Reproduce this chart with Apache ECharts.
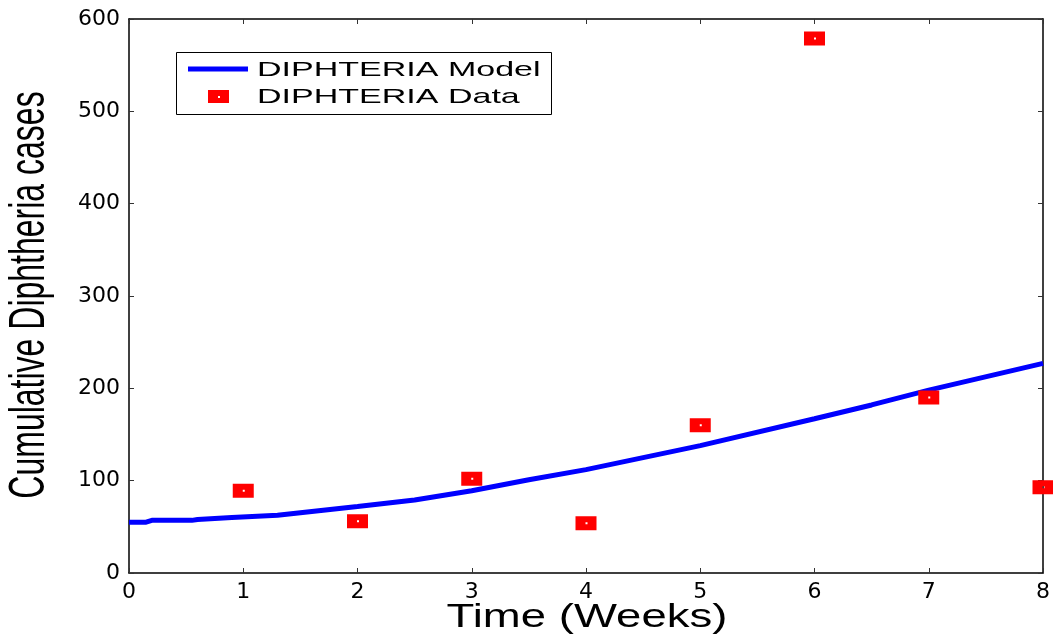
<!DOCTYPE html>
<html>
<head>
<meta charset="utf-8">
<script src="https://cdn.jsdelivr.net/npm/echarts@6/dist/echarts.min.js"></script>
<style>html,body{margin:0;padding:0;background:#fff}#c{width:1053px;height:640px}</style>
</head>
<body>
<div id="c"></div>
<script>
// Model curve (time in weeks, cumulative cases)
const modelTime  = [0, 0.15, 0.2, 0.55, 0.6, 0.9, 1.3, 2, 2.5, 3, 3.5, 4, 5, 6, 6.5, 7, 8];
const modelCases = [55, 55, 57, 57, 58, 60, 62.5, 72, 79, 89, 101, 112, 138, 167, 182, 198, 227];
// Observed data
const dataWeeks = [1, 2, 3, 4, 5, 6, 7, 8];
const dataCases = [89, 56, 102, 54, 160, 579, 190, 93];
// Axis ticks
const xTicks = [0, 1, 2, 3, 4, 5, 6, 7, 8];
const yTicks = [0, 100, 200, 300, 400, 500, 600];

const modelName = 'DIPHTERIA Model';
const dataName = 'DIPHTERIA Data';
const xTitle = 'Time (Weeks)';
const yTitle = 'Cumulative Diphtheria cases';

const squarePath = 'path://M0,0L21,0L21,14L0,14Z M10,6L10,8L12,8L12,6Z';

const chart = echarts.init(document.getElementById('c'), null, {renderer: 'canvas'});
const tickFont = {color: '#000', fontFamily: 'DejaVu Sans', fontSize: 22};
const axisLine = {show: true, onZero: false, lineStyle: {color: '#000', width: 1.5}};
const tick = {show: true, inside: true, length: 5, lineStyle: {color: '#333', width: 1}};

chart.setOption({
  animation: false,
  backgroundColor: '#fff',
  grid: {left: 129, right: 8, top: 19, bottom: 67, containLabel: false},
  xAxis: [
    {type: 'value', min: xTicks[0], max: xTicks[xTicks.length - 1], interval: 1,
     axisLine: axisLine, axisTick: tick, splitLine: {show: false},
     axisLabel: Object.assign({margin: 8}, tickFont)},
    {type: 'value', position: 'top', min: xTicks[0], max: xTicks[xTicks.length - 1], interval: 1,
     axisLine: axisLine, axisTick: tick, splitLine: {show: false}, axisLabel: {show: false}}
  ],
  yAxis: [
    {type: 'value', min: yTicks[0], max: yTicks[yTicks.length - 1], interval: 100,
     axisLine: axisLine, axisTick: tick, splitLine: {show: false},
     axisLabel: Object.assign({margin: 9}, tickFont)},
    {type: 'value', position: 'right', min: yTicks[0], max: yTicks[yTicks.length - 1], interval: 100,
     axisLine: axisLine, axisTick: tick, splitLine: {show: false}, axisLabel: {show: false}}
  ],
  series: [
    {name: modelName, type: 'line', data: modelTime.map((t, i) => [t, modelCases[i]]),
     symbol: 'none', smooth: false, lineStyle: {color: '#0000ff', width: 5}, z: 2},
    {name: dataName, type: 'scatter', data: dataWeeks.map((t, i) => [t, dataCases[i]]),
     symbol: squarePath, symbolSize: [21, 14], itemStyle: {color: '#ff0000', opacity: 1}, z: 3}
  ],
  graphic: [
    {type: 'text', x: 587, y: 618, scaleX: 1.38, silent: true,
     style: {text: xTitle, fontFamily: 'Liberation Sans', fontSize: 33, fill: '#000',
             align: 'center', verticalAlign: 'middle', textAlign: 'center', textVerticalAlign: 'middle'}},
    {type: 'text', x: 30, y: 295, rotation: Math.PI / 2, scaleX: 0.64, silent: true,
     style: {text: yTitle, fontFamily: 'Liberation Sans', fontSize: 50, fill: '#000',
             align: 'center', verticalAlign: 'middle', textAlign: 'center', textVerticalAlign: 'middle'}},
    {type: 'group', silent: true, z: 10, children: [
      {type: 'rect', shape: {x: 176.5, y: 52.5, width: 375, height: 62},
       style: {fill: '#fff', stroke: '#000', lineWidth: 1}},
      {type: 'line', shape: {x1: 188, y1: 69, x2: 248, y2: 69},
       style: {stroke: '#0000ff', lineWidth: 5}},
      {type: 'rect', shape: {x: 208, y: 90, width: 21, height: 13},
       style: {fill: '#ff0000'}},
      {type: 'rect', shape: {x: 218, y: 96, width: 2, height: 2},
       style: {fill: '#ffffff'}},
      {type: 'text', x: 257, y: 70, scaleX: 1.62,
       style: {text: modelName, fontFamily: 'Liberation Sans', fontSize: 21, fill: '#000',
               align: 'left', verticalAlign: 'middle', textAlign: 'left', textVerticalAlign: 'middle'}},
      {type: 'text', x: 257, y: 97, scaleX: 1.62,
       style: {text: dataName, fontFamily: 'Liberation Sans', fontSize: 21, fill: '#000',
               align: 'left', verticalAlign: 'middle', textAlign: 'left', textVerticalAlign: 'middle'}}
    ]}
  ]
});
</script>
</body>
</html>
